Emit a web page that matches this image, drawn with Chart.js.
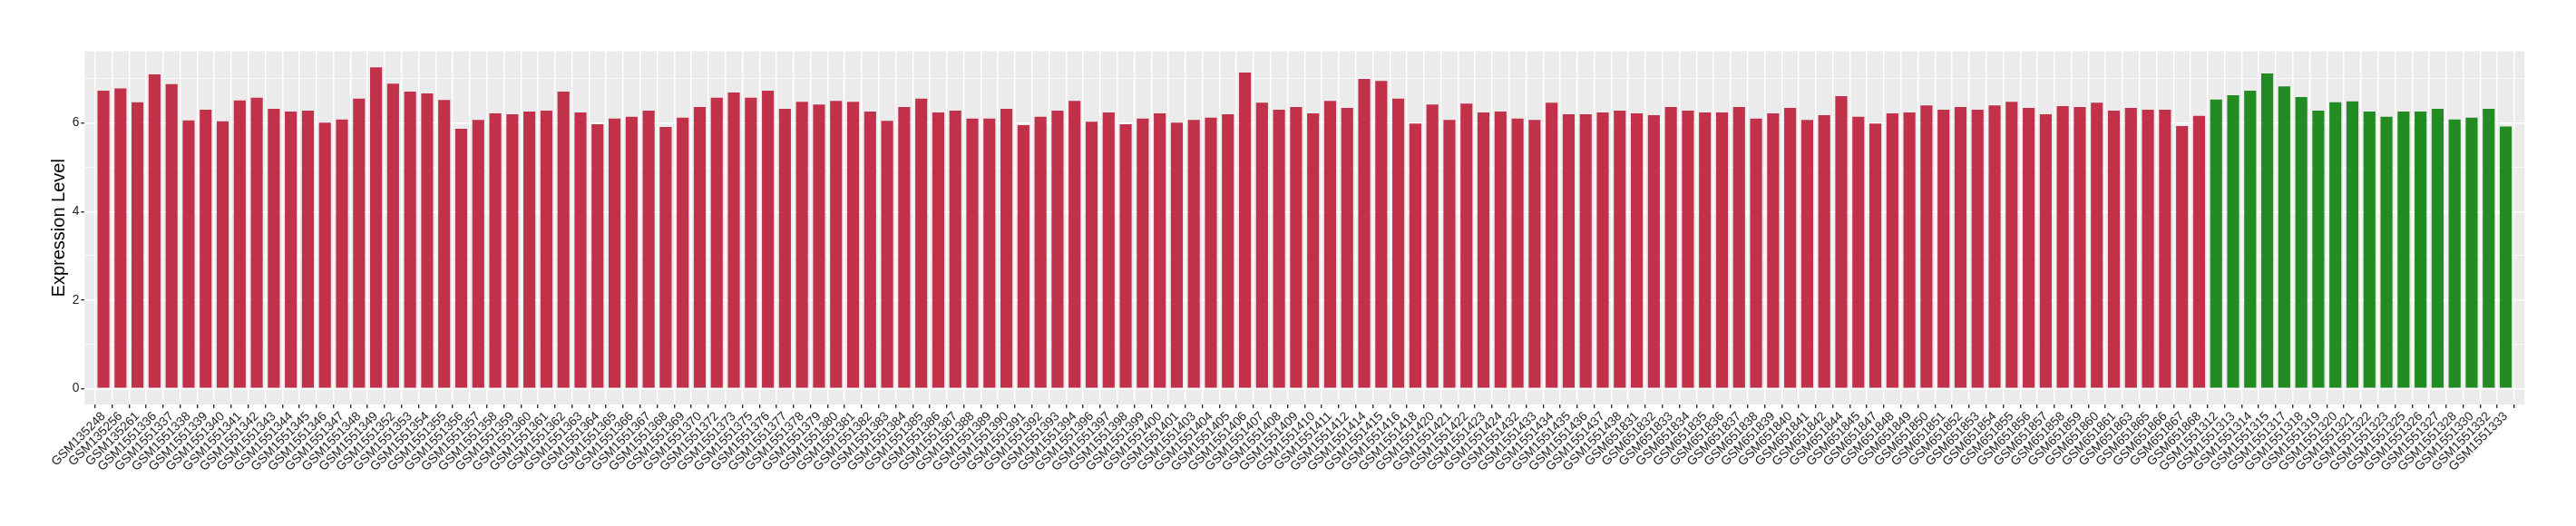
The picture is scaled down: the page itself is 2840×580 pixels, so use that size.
<!DOCTYPE html>
<html>
<head>
<meta charset="utf-8">
<script src="https://cdn.jsdelivr.net/npm/chart.js@4"></script>
<style>
  body { margin: 0; background: #fff; }
  canvas { display: block; }
</style>
</head>
<body>
<canvas id="expression-chart" width="2840" height="580"></canvas>
<script>
// Red group samples
const redLabels = [
  "GSM135248", "GSM135256", "GSM135261", "GSM1551336", "GSM1551337", "GSM1551338", "GSM1551339", "GSM1551340",
  "GSM1551341", "GSM1551342", "GSM1551343", "GSM1551344", "GSM1551345", "GSM1551346", "GSM1551347", "GSM1551348",
  "GSM1551349", "GSM1551352", "GSM1551353", "GSM1551354", "GSM1551355", "GSM1551356", "GSM1551357", "GSM1551358",
  "GSM1551359", "GSM1551360", "GSM1551361", "GSM1551362", "GSM1551363", "GSM1551364", "GSM1551365", "GSM1551366",
  "GSM1551367", "GSM1551368", "GSM1551369", "GSM1551370", "GSM1551372", "GSM1551373", "GSM1551375", "GSM1551376",
  "GSM1551377", "GSM1551378", "GSM1551379", "GSM1551380", "GSM1551381", "GSM1551382", "GSM1551383", "GSM1551384",
  "GSM1551385", "GSM1551386", "GSM1551387", "GSM1551388", "GSM1551389", "GSM1551390", "GSM1551391", "GSM1551392",
  "GSM1551393", "GSM1551394", "GSM1551396", "GSM1551397", "GSM1551398", "GSM1551399", "GSM1551400", "GSM1551401",
  "GSM1551403", "GSM1551404", "GSM1551405", "GSM1551406", "GSM1551407", "GSM1551408", "GSM1551409", "GSM1551410",
  "GSM1551411", "GSM1551412", "GSM1551414", "GSM1551415", "GSM1551416", "GSM1551418", "GSM1551420", "GSM1551421",
  "GSM1551422", "GSM1551423", "GSM1551424", "GSM1551432", "GSM1551433", "GSM1551434", "GSM1551435", "GSM1551436",
  "GSM1551437", "GSM1551438", "GSM651831", "GSM651832", "GSM651833", "GSM651834", "GSM651835", "GSM651836",
  "GSM651837", "GSM651838", "GSM651839", "GSM651840", "GSM651841", "GSM651842", "GSM651844", "GSM651845",
  "GSM651847", "GSM651848", "GSM651849", "GSM651850", "GSM651851", "GSM651852", "GSM651853", "GSM651854",
  "GSM651855", "GSM651856", "GSM651857", "GSM651858", "GSM651859", "GSM651860", "GSM651861", "GSM651863",
  "GSM651865", "GSM651866", "GSM651867", "GSM651868"
];
const redValues = [
  6.73, 6.78, 6.47, 7.10, 6.88, 6.06, 6.30, 6.04,
  6.51, 6.57, 6.32, 6.26, 6.28, 6.01, 6.08, 6.55,
  7.26, 6.89, 6.71, 6.67, 6.52, 5.87, 6.07, 6.22,
  6.20, 6.26, 6.28, 6.71, 6.24, 5.97, 6.10, 6.14,
  6.28, 5.91, 6.12, 6.36, 6.57, 6.69, 6.57, 6.73,
  6.32, 6.48, 6.42, 6.50, 6.48, 6.26, 6.05, 6.36,
  6.55, 6.24, 6.28, 6.10, 6.10, 6.32, 5.95, 6.14,
  6.28, 6.50, 6.03, 6.24, 5.97, 6.10, 6.22, 6.01,
  6.07, 6.12, 6.20, 7.14, 6.46, 6.30, 6.36, 6.22,
  6.50, 6.34, 7.00, 6.95, 6.55, 5.99, 6.42, 6.07,
  6.44, 6.24, 6.26, 6.10, 6.07, 6.46, 6.20, 6.20,
  6.24, 6.28, 6.22, 6.18, 6.36, 6.28, 6.24, 6.24,
  6.36, 6.10, 6.22, 6.34, 6.07, 6.18, 6.61, 6.14,
  5.99, 6.22, 6.24, 6.40, 6.30, 6.36, 6.30, 6.40,
  6.48, 6.34, 6.20, 6.38, 6.36, 6.46, 6.28, 6.34,
  6.30, 6.30, 5.93, 6.16
];

// Green group samples
const greenLabels = [
  "GSM1551312", "GSM1551313", "GSM1551314", "GSM1551315", "GSM1551317", "GSM1551318",
  "GSM1551319", "GSM1551320", "GSM1551321", "GSM1551322", "GSM1551323", "GSM1551325",
  "GSM1551326", "GSM1551327", "GSM1551328", "GSM1551330", "GSM1551332", "GSM1551333"
];
const greenValues = [
  6.53, 6.63, 6.73, 7.12, 6.83, 6.59,
  6.28, 6.47, 6.49, 6.26, 6.14, 6.26,
  6.26, 6.32, 6.08, 6.12, 6.32, 5.92
];

const yTicks = [0, 1, 2, 3, 4, 5, 6, 7];

const allLabels = redLabels.concat(greenLabels);
const allValues = redValues.concat(greenValues);
const yMax = Math.max(...allValues);
const n = allLabels.length;

const fontFamily = "'Liberation Sans', Arial, Helvetica, sans-serif";
const tickText = "#222222";

// grey panel behind the grid, like ggplot's theme_gray
const panelBackground = {
  id: "panelBackground",
  beforeDraw(chart) {
    const { ctx, chartArea } = chart;
    ctx.save();
    ctx.fillStyle = "#EBEBEB";
    ctx.fillRect(chartArea.left, chartArea.top, chartArea.right - chartArea.left, chartArea.bottom - chartArea.top);
    ctx.restore();
  },
};

const ctx = document.getElementById("expression-chart").getContext("2d");
const expressionChart = new Chart(ctx, {
  type: "bar",
  data: {
    datasets: [
      {
        label: "red",
        data: redValues.map((v, i) => ({ x: i, y: v })),
        backgroundColor: "#C2314A",
      },
      {
        label: "green",
        data: greenValues.map((v, i) => ({ x: redValues.length + i, y: v })),
        backgroundColor: "#228B22",
      },
    ],
  },
  options: {
    responsive: false,
    animation: false,
    devicePixelRatio: 1,
    grouped: false,
    barPercentage: 0.7,
    categoryPercentage: 1,
    layout: { padding: { left: 53, top: 56.5, right: 56.7, bottom: 0 } },
    plugins: {
      legend: { display: false },
      tooltip: { enabled: false },
    },
    scales: {
      x: {
        type: "linear",
        min: -0.6,
        max: n - 1 + 0.6,
        afterBuildTicks: (scale) => {
          scale.ticks = allLabels.map((_, i) => ({ value: i }));
        },
        afterFit: (scale) => {
          scale.height = 134;
        },
        ticks: {
          autoSkip: false,
          minRotation: 45,
          maxRotation: 45,
          padding: 1,
          color: tickText,
          font: { family: fontFamily, size: 13.8 },
          callback: (value) => allLabels[value],
        },
        grid: {
          color: "#FFFFFF",
          lineWidth: 1.4,
          tickColor: "#333333",
          tickLength: 4,
        },
        border: { display: false },
      },
      y: {
        min: -0.05 * yMax,
        max: 1.05 * yMax,
        afterBuildTicks: (scale) => {
          scale.ticks = yTicks.map((v) => ({ value: v }));
        },
        afterFit: (scale) => {
          scale.width = 40.3;
        },
        ticks: {
          padding: 2,
          color: tickText,
          font: { family: fontFamily, size: 13.8 },
          callback: (value) => (value % 2 === 0 ? String(value) : ""),
        },
        grid: {
          color: "#FFFFFF",
          lineWidth: (c) => (c.tick && c.tick.value % 2 === 0 ? 1.4 : 0.7),
          tickColor: (c) => (c.tick && c.tick.value % 2 === 0 ? "#333333" : "rgba(0,0,0,0)"),
          tickLength: 4,
        },
        border: { display: false },
        title: {
          display: true,
          text: "Expression Level",
          color: "#000000",
          font: { family: fontFamily, size: 20 },
          padding: { top: 0, bottom: 0 },
        },
      },
    },
  },
  plugins: [panelBackground],
});
</script>
</body>
</html>
